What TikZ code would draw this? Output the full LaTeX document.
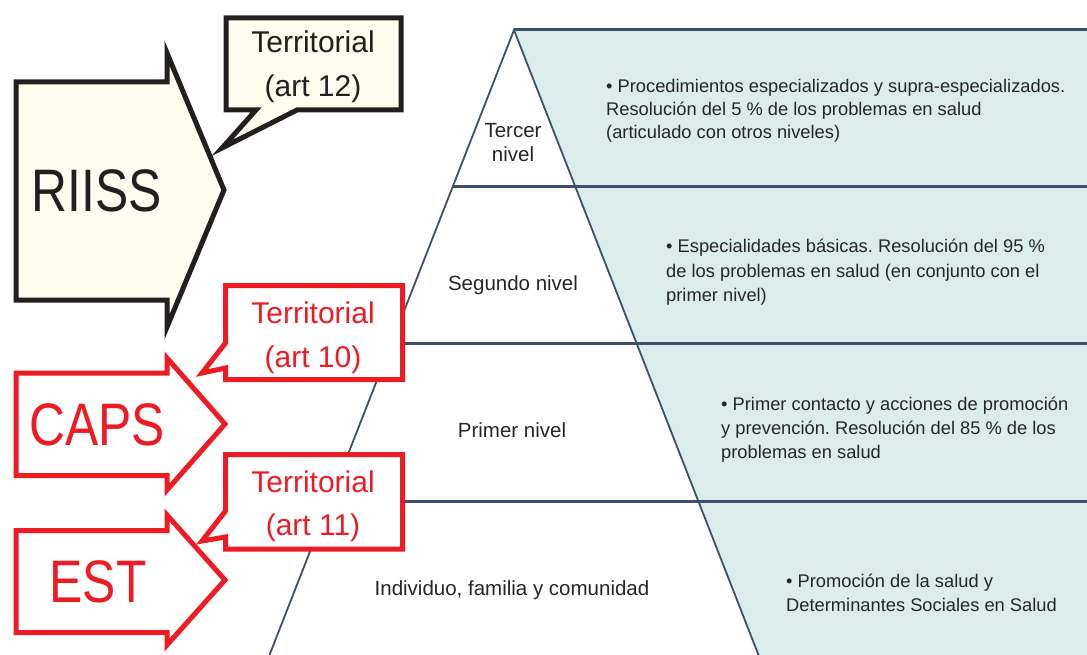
\documentclass[tikz,border=0pt]{standalone}
\usepackage{fontspec}
\setmainfont{Liberation Sans}
\newfontfamily\bigfont[FakeStretch=0.83]{Liberation Sans}
\usetikzlibrary{calc}
\frenchspacing
\definecolor{slateline}{HTML}{3E5065}
\definecolor{levelfill}{HTML}{DAEDEA}
\definecolor{cream}{HTML}{FEFBEF}
\definecolor{boxblack}{HTML}{231F20}
\definecolor{boxred}{HTML}{ED1C24}
\definecolor{textgrey}{HTML}{262626}
\tikzset{
    levelline/.style={draw=slateline, line width=3pt},
    sideline/.style={draw=slateline, line width=1.8pt},
    levellabel/.style={font=\fontsize{20.5}{24}\selectfont, text=textgrey, anchor=base, inner sep=0pt},
    infotext/.style={font=\fontsize{18.3}{23}\selectfont, text=textgrey, anchor=base west, inner sep=0pt},
    blackbox/.style={draw=boxblack, fill=cream, line width=5pt, miter limit=20},
    redbox/.style={draw=boxred, fill=white, line width=5pt, miter limit=20},
    calloutlabel/.style={font=\fontsize{30}{36}\selectfont, anchor=base, inner sep=0pt},
    biglabel/.style={font=\bigfont\fontsize{60}{70}\selectfont, anchor=base, inner sep=0pt}
}
\begin{document}
\begin{tikzpicture}[x=1pt, y=-1pt]
    \useasboundingbox (0,0) rectangle (1087,655);
    % pyramid
    \coordinate (apex) at (514,30);
    \coordinate (lbase) at (269.5,655);
    \coordinate (rbase) at (758.5,655);
    \coordinate (rtop) at (1087,30);
    \fill[levelfill] (apex) -- (rtop) -- (1087,655) -- (rbase) -- cycle;
    \draw[levelline] (apex) -- (rtop);
    \foreach \t/\n in {0.2496/a, 0.5024/b, 0.7536/c}
        \draw[levelline] ($(apex)!\t!(lbase)$) coordinate (l\n) -- (l\n -| rtop);
    \draw[sideline] (lbase) -- (apex) -- (rbase);
    % level names
    \node[levellabel] (tercer) at (513,138) {Tercer};
    \node[levellabel] (tercerb) at (513,162) {nivel};
    \node[levellabel] (segundo) at (513,290) {Segundo nivel};
    \node[levellabel] (primer) at (512,437) {Primer nivel};
    \node[levellabel] (comunidad) at (512,595) {Individuo, familia y comunidad};
    % descriptions
    \foreach \y/\n/\s in {93/ta/{• Procedimientos especializados y supra-especializados.},
            116/tb/{Resolución del 5 \% de los problemas en salud},
            139/tc/{(articulado con otros niveles)}}
        \node[infotext] (\n) at (606,\y) {\s};
    \foreach \y/\n/\s in {253/sa/{• Especialidades básicas. Resolución del 95 \%},
            277/sb/{de los problemas en salud (en conjunto con el},
            301/sc/{primer nivel)}}
        \node[infotext] (\n) at (666,\y) {\s};
    \foreach \y/\n/\s in {410/pa/{• Primer contacto y acciones de promoción},
            434/pb/{y prevención. Resolución del 85 \% de los},
            458/pc/{problemas en salud}}
        \node[infotext] (\n) at (721,\y) {\s};
    \foreach \y/\n/\s in {587/ca/{• Promoción de la salud y},
            611/cb/{Determinantes Sociales en Salud}}
        \node[infotext] (\n) at (786,\y) {\s};
    % arrows on the left
    \draw[blackbox] (16,82) -- (167,82) -- (167,53) -- (224,190) -- (167,327) -- (167,300) -- (16,300) -- cycle;
    \draw[redbox] (16,373) -- (167,373) -- (167,358) -- (225,424) -- (167,490) -- (167,475.5) -- (16,475.5) -- cycle;
    \draw[redbox] (16,530.5) -- (167,530.5) -- (167,515) -- (225,580) -- (167,645) -- (167,632.5) -- (16,632.5) -- cycle;
    \node[biglabel, text=boxblack] (riiss) at (97,212) {RIISS};
    \node[biglabel, text=boxred] (caps) at (97,445) {CAPS};
    \node[biglabel, text=boxred] (est) at (98,602) {EST};
    % callouts
    \draw[blackbox] (226,18) -- (401,18) -- (401,110) -- (297,110) -- (222,148) -- (256,110) -- (226,110) -- cycle;
    \draw[redbox] (225.5,285.5) -- (402.5,285.5) -- (402.5,379.5) -- (225.5,379.5) -- (225.5,368) -- (202,373) -- (225.5,343) -- cycle;
    \draw[redbox] (225.5,454.5) -- (402.5,454.5) -- (402.5,549) -- (225.5,549) -- (225.5,537) -- (202,541) -- (225.5,511) -- cycle;
    \node[calloutlabel, text=boxblack] (art12a) at (313,53) {Territorial};
    \node[calloutlabel, text=boxblack] (art12b) at (313,97) {(art 12)};
    \node[calloutlabel, text=boxred] (art10a) at (313,323) {Territorial};
    \node[calloutlabel, text=boxred] (art10b) at (313,367) {(art 10)};
    \node[calloutlabel, text=boxred] (art11a) at (313,492) {Territorial};
    \node[calloutlabel, text=boxred] (art11b) at (313,535) {(art 11)};
\end{tikzpicture}
\end{document}
